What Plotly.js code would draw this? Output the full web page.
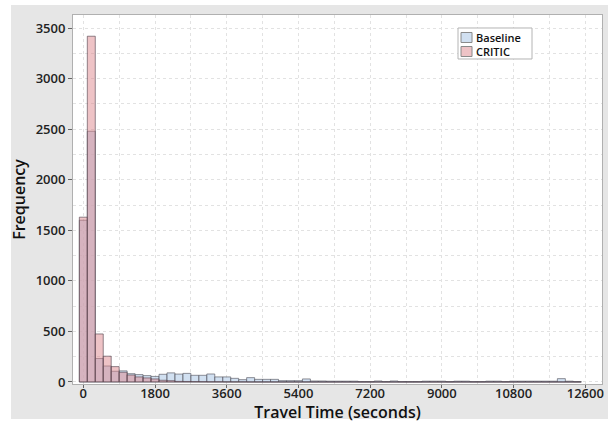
<!DOCTYPE html>
<html>
<head>
<meta charset="utf-8">
<script src="https://cdn.plot.ly/plotly-3.0.1.min.js"></script>
<style>
  html, body { margin: 0; padding: 0; background: #ffffff; }
  #bg { position: absolute; left: 11px; top: 5px; width: 597px; height: 414px; background: #e6e6e6; }
  #chart { position: absolute; left: 0; top: 0; width: 616px; height: 423px; }
</style>
</head>
<body>
<div id="bg"></div>
<div id="chart"></div>
<script>
// Bin centres (seconds), bin width 200 s
const binCenters = [0,200,400,600,800,1000,1200,1400,1600,1800,2000,2200,2400,2600,2800,3000,3200,3400,3600,3800,4000,4200,4400,4600,4800,5000,5200,5400,5600,5800,6000,6200,6400,6600,6800,7000,7200,7400,7600,7800,8000,8200,8400,8600,8800,9000,9200,9400,9600,9800,10000,10200,10400,10600,10800,11000,11200,11400,11600,11800,12000,12200,12400];
const baselineCounts = [1600,2480,232,158,106,110,82,73,63,55,76,90,78,85,66,66,79,50,50,36,23,43,26,26,26,13,13,13,30,10,10,8,8,8,8,3,3,10,3,10,3,3,3,8,8,8,3,8,8,3,3,8,8,3,8,8,8,8,8,8,33,8,3];
const criticCounts = [1630,3420,475,255,152,96,69,50,40,30,17,13,6,5,4,3,2,2,1,1,1,0,0,0,0,0,0,0,0,0,0,0,0,0,0,0,0,0,0,0,0,0,0,0,0,0,0,0,0,0,0,0,0,0,0,0,0,0,0,0,0,0,0];
const seriesNames = ["Baseline", "CRITIC"];
const xTicks = [0,1800,3600,5400,7200,9000,10800,12600];
const yTicks = [0,500,1000,1500,2000,2500,3000,3500];

const font = "'Open Sans', 'DejaVu Sans', sans-serif";
const colors = ["rgba(184,208,234,0.65)", "rgba(220,130,136,0.48)"];
const outline = ["rgba(85,85,95,0.8)", "rgba(85,70,80,0.8)"];

const traces = [
  {
    type: "bar", name: seriesNames[0], x: binCenters, y: baselineCounts, width: 200,
    marker: { color: colors[0], line: { color: outline[0], width: 0.8 } },
    hoverinfo: "x+y"
  },
  {
    type: "bar", name: seriesNames[1], x: binCenters, y: criticCounts, width: 200,
    marker: { color: colors[1], line: { color: outline[1], width: 0.8 } },
    hoverinfo: "x+y"
  }
];

// Custom legend box (paper coordinates)
const shapes = [
  { type: "rect", xref: "paper", yref: "paper", x0: 0.7278, x1: 0.8677, y0: 0.8808, y1: 0.9648,
    fillcolor: "#ffffff", line: { color: "#b4b4b4", width: 1 }, layer: "above" },
  { type: "rect", xref: "paper", yref: "paper", x0: 0.7335, x1: 0.7543, y0: 0.9255, y1: 0.9526,
    fillcolor: colors[0], line: { color: "#8a8a8a", width: 1 }, layer: "above" },
  { type: "rect", xref: "paper", yref: "paper", x0: 0.7335, x1: 0.7543, y0: 0.8875, y1: 0.9146,
    fillcolor: colors[1], line: { color: "#8a8a8a", width: 1 }, layer: "above" }
];
const annotations = [
  { xref: "paper", yref: "paper", x: 0.7600, y: 0.9390, xanchor: "left", yanchor: "middle", borderpad: 0,
    text: seriesNames[0], showarrow: false, font: { family: font, size: 11, color: "#111111", weight: 600 } },
  { xref: "paper", yref: "paper", x: 0.7600, y: 0.9011, xanchor: "left", yanchor: "middle", borderpad: 0,
    text: seriesNames[1], showarrow: false, font: { family: font, size: 11, color: "#111111", weight: 600 } }
];

const gridCol = "#e2e2e2";
const layout = {
  width: 616, height: 423,
  margin: { l: 73, r: 14, t: 15, b: 39, pad: 0 },
  paper_bgcolor: "rgba(0,0,0,0)",
  plot_bgcolor: "#ffffff",
  barmode: "overlay",
  bargap: 0,
  showlegend: false,
  shapes: shapes,
  annotations: annotations,
  xaxis: {
    range: [-259, 13020],
    tickvals: xTicks, ticktext: xTicks.map(String),
    tickfont: { family: font, size: 13, color: "#222222", weight: 600 },
    ticks: "outside", ticklen: 3, tickcolor: "#666666",
    ticklabelstandoff: -6,
    showgrid: true, gridcolor: gridCol, griddash: "3px,3px", gridwidth: 1,
    minor: { dtick: 900, tick0: 0, showgrid: true, gridcolor: gridCol, griddash: "3px,3px", ticks: "" },
    showline: true, linecolor: "#b0b0b0", linewidth: 1, mirror: true,
    zeroline: false,
    title: { text: "Travel Time (seconds)", font: { family: font, size: 16, color: "#111111", weight: 600 }, standoff: 0 },
    automargin: false
  },
  yaxis: {
    range: [-20, 3630],
    tickvals: yTicks, ticktext: yTicks.map(String),
    tickfont: { family: font, size: 13, color: "#222222", weight: 600 },
    ticks: "outside", ticklen: 4, tickcolor: "#666666",
    showgrid: true, gridcolor: gridCol, griddash: "3px,3px", gridwidth: 1,
    minor: { dtick: 250, tick0: 0, showgrid: true, gridcolor: gridCol, griddash: "3px,3px", ticks: "" },
    showline: true, linecolor: "#b0b0b0", linewidth: 1, mirror: true,
    zeroline: false,
    title: { text: "Frequency", font: { family: font, size: 16, color: "#111111", weight: 600 }, standoff: 6 },
    automargin: false
  }
};

Plotly.newPlot("chart", traces, layout, { displayModeBar: false, staticPlot: true });
</script>
</body>
</html>
